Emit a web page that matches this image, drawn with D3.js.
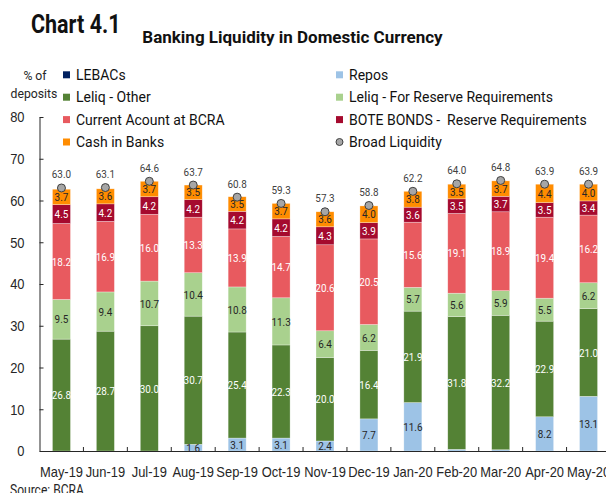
<!DOCTYPE html>
<html>
<head>
<meta charset="utf-8">
<script src="https://cdn.jsdelivr.net/npm/d3@7"></script>
<style>
  body { margin: 0; background: #fff; }
  svg { font-family: Roboto, "Liberation Sans", sans-serif; }
</style>
</head>
<body>
<svg id="chart" width="606" height="493"></svg>
<script>
'use strict';

// data (% of deposits)
var months = ['May-19','Jun-19','Jul-19','Aug-19','Sep-19','Oct-19','Nov-19','Dec-19','Jan-20','Feb-20','Mar-20','Apr-20','May-20'];
var lebacs = [0,0,0,0,0,0,0,0,0,0,0,0,0];
var repos = [0,0,0,1.6,3.1,3.1,2.4,7.7,11.6,0.4,0.3,8.2,13.1];
var leliqOther = [26.8,28.7,30.0,30.7,25.4,22.3,20.0,16.4,21.9,31.8,32.2,22.9,21.0];
var leliqReserve = [9.5,9.4,10.7,10.4,10.8,11.3,6.4,6.2,5.7,5.6,5.9,5.5,6.2];
var currentAccount = [18.2,16.9,16.0,13.3,13.9,14.7,20.6,20.5,15.6,19.1,18.9,19.4,16.2];
var boteBonds = [4.5,4.2,4.2,4.2,4.2,4.2,4.3,3.9,3.6,3.5,3.7,3.5,3.4];
var cashInBanks = [3.7,3.6,3.7,3.5,3.5,3.7,3.6,4.0,3.8,3.5,3.7,4.4,4.0];
var broadLiquidity = [63.0,63.1,64.6,63.7,60.8,59.3,57.3,58.8,62.2,64.0,64.8,63.9,63.9];
var yTicks = [0,10,20,30,40,50,60,70,80];

var series = [
  { key: 'lebacs', name: 'LEBACs', values: lebacs, color: '#002060', text: '#fff' },
  { key: 'repos', name: 'Repos', values: repos, color: '#9dc3e6', text: '#262626' },
  { key: 'leliqOther', name: 'Leliq - Other', values: leliqOther, color: '#548235', text: '#fff' },
  { key: 'leliqReserve', name: 'Leliq - For Reserve Requirements', values: leliqReserve, color: '#a9d18e', text: '#262626' },
  { key: 'currentAccount', name: 'Current Acount at BCRA', values: currentAccount, color: '#e85a5f', text: '#fff' },
  { key: 'boteBonds', name: 'BOTE BONDS -  Reserve Requirements', values: boteBonds, color: '#a50a2e', text: '#fff' },
  { key: 'cashInBanks', name: 'Cash in Banks', values: cashInBanks, color: '#ff8c00', text: '#262626' }
];

var rows = months.map(function(m, i){
  var r = { month: m };
  series.forEach(function(s){ r[s.key] = s.values[i]; });
  return r;
});

var svg = d3.select('#chart');

var x = d3.scaleBand().domain(months).range([39.5, 610.5]).paddingInner(0.59).paddingOuter(0.295);
var y = d3.scaleLinear().domain([0, 80]).range([451, 117]);

var stack = d3.stack().keys(series.map(function(s){ return s.key; }));
var stacked = stack(rows);

// bars
var layers = svg.append('g').selectAll('g').data(stacked).enter().append('g')
  .attr('fill', function(d, i){ return series[i].color; });

layers.selectAll('rect').data(function(d){ return d; }).enter().append('rect')
  .attr('x', function(d){ return x(d.data.month); })
  .attr('width', x.bandwidth())
  .attr('y', function(d){ return y(d[1]); })
  .attr('height', function(d){ return Math.max(0, y(d[0]) - y(d[1])); })
  .attr('stroke', '#fff')
  .attr('stroke-opacity', 0.5)
  .attr('stroke-width', 0.6);

// segment labels
stacked.forEach(function(layer, i){
  var s = series[i];
  svg.append('g').selectAll('text').data(layer.filter(function(d){ return d[1] - d[0] >= 1; }))
    .enter().append('text')
    .attr('data-squeeze', 0.86)
    .attr('x', function(d){ return x(d.data.month) + x.bandwidth() / 2; })
    .attr('y', function(d){ return y((d[0] + d[1]) / 2); })
    .attr('dy', '0.36em')
    .attr('text-anchor', 'middle')
    .attr('font-size', 11.5)
    .attr('fill', s.text)
    .text(function(d){ return (d[1] - d[0]).toFixed(1); });
});

// y axis
var yAxis = svg.append('g').attr('transform', 'translate(39.5,0)')
  .call(d3.axisLeft(y).tickValues(yTicks).tickSize(-4).tickSizeOuter(0).tickPadding(15));
yAxis.select('.domain').attr('stroke', '#262626');
yAxis.selectAll('.tick line').attr('stroke', '#262626');
yAxis.selectAll('text').attr('data-squeeze', 0.86).attr('font-size', 15).attr('fill', '#262626').attr('font-family', null);

// x axis
var xAxis = svg.append('g').attr('transform', 'translate(0,451)')
  .call(d3.axisBottom(x).tickSize(0).tickSizeOuter(0).tickPadding(15));
xAxis.select('.domain').attr('stroke', '#262626');
xAxis.selectAll('text').attr('data-squeeze', 0.86).attr('font-size', 15).attr('fill', '#262626').attr('font-family', null);

// category boundary ticks
svg.append('g').selectAll('line').data(months.slice(0, -1)).enter().append('line')
  .attr('x1', function(d){ return x(d) + x.bandwidth() / 2 + x.step() / 2; })
  .attr('x2', function(d){ return x(d) + x.bandwidth() / 2 + x.step() / 2; })
  .attr('y1', 451).attr('y2', 447)
  .attr('stroke', '#262626');

// broad liquidity dots + labels
svg.append('g').selectAll('circle').data(months).enter().append('circle')
  .attr('cx', function(d){ return x(d) + x.bandwidth() / 2; })
  .attr('cy', function(d, i){ return y(broadLiquidity[i]); })
  .attr('r', 4)
  .attr('fill', '#a6a6a6')
  .attr('stroke', '#404040')
  .attr('stroke-width', 1);

svg.append('g').selectAll('text').data(months).enter().append('text')
  .attr('data-squeeze', 0.86)
  .attr('x', function(d){ return x(d) + x.bandwidth() / 2; })
  .attr('y', function(d, i){ return y(broadLiquidity[i]) - 9.5; })
  .attr('text-anchor', 'middle')
  .attr('font-size', 11.5)
  .attr('fill', '#404040')
  .text(function(d, i){ return broadLiquidity[i].toFixed(1); });

// titles
svg.append('text').attr('data-squeeze', 0.86).attr('x', 31).attr('y', 33)
  .attr('font-size', 25).attr('font-weight', 'bold').attr('fill', '#111')
  .text('Chart 4.1');
svg.append('text').attr('x', 292.5).attr('y', 42.5)
  .attr('text-anchor', 'middle')
  .attr('font-size', 17).attr('font-weight', 'bold').attr('fill', '#111')
  .text('Banking Liquidity in Domestic Currency');

// y axis unit
svg.append('text').attr('data-squeeze', 0.94).attr('x', 35).attr('y', 80)
  .attr('text-anchor', 'middle').attr('font-size', 13).attr('fill', '#262626').text('% of');
svg.append('text').attr('data-squeeze', 0.94).attr('x', 34).attr('y', 98)
  .attr('text-anchor', 'middle').attr('font-size', 13).attr('fill', '#262626').text('deposits');

// legend
var legendItems = [
  { name: series[0].name, color: series[0].color, col: 0, row: 0 },
  { name: series[1].name, color: series[1].color, col: 1, row: 0 },
  { name: series[2].name, color: series[2].color, col: 0, row: 1 },
  { name: series[3].name, color: series[3].color, col: 1, row: 1 },
  { name: series[4].name, color: series[4].color, col: 0, row: 2 },
  { name: series[5].name, color: series[5].color, col: 1, row: 2 },
  { name: series[6].name, color: series[6].color, col: 0, row: 3 },
  { name: 'Broad Liquidity', color: null, col: 1, row: 3 }
];
var legend = svg.append('g').selectAll('g').data(legendItems).enter().append('g')
  .attr('transform', function(d){ return 'translate(' + (d.col ? 336 : 63) + ',' + (74.8 + d.row * 22.4) + ')'; });
legend.filter(function(d){ return d.color; }).append('rect')
  .attr('x', 0).attr('y', -3.5).attr('width', 7).attr('height', 7)
  .attr('fill', function(d){ return d.color; });
legend.filter(function(d){ return !d.color; }).append('circle')
  .attr('cx', 3.5).attr('cy', 0).attr('r', 3.5)
  .attr('fill', '#a6a6a6').attr('stroke', '#404040').attr('stroke-width', 1);
legend.append('text')
  .attr('x', 13).attr('dy', '0.36em')
  .attr('font-size', 14).attr('fill', '#111')
  .style('white-space', 'pre')
  .text(function(d){ return d.name; });

// source
svg.append('text').attr('data-squeeze', 0.86).attr('x', 10).attr('y', 495)
  .attr('font-size', 14).attr('fill', '#262626').text('Source: BCRA');

// squeeze some texts to look like the condensed face of the original
svg.selectAll('text[data-squeeze]').each(function(){
  var w = this.getComputedTextLength();
  var f = +this.getAttribute('data-squeeze');
  if (w > 0) {
    d3.select(this).attr('textLength', w * f).attr('lengthAdjust', 'spacingAndGlyphs');
  }
});
</script>
</body>
</html>
